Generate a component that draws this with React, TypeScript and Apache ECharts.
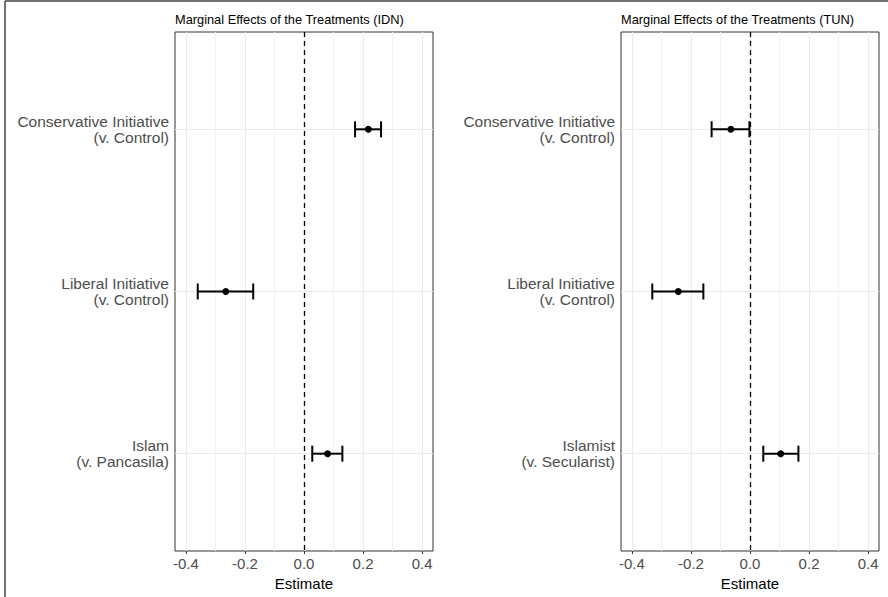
import React, { useEffect, useRef } from "react";
import * as echarts from "echarts";

const categoriesIDN = ["Conservative Initiative\n(v. Control)", "Liberal Initiative\n(v. Control)", "Islam\n(v. Pancasila)"];
const categoriesTUN = ["Conservative Initiative\n(v. Control)", "Liberal Initiative\n(v. Control)", "Islamist\n(v. Secularist)"];
const estimateIDN = [0.218, -0.265, 0.080];
const lowerIDN = [0.173, -0.360, 0.028];
const upperIDN = [0.261, -0.172, 0.130];
const estimateTUN = [-0.065, -0.243, 0.104];
const lowerTUN = [-0.130, -0.331, 0.045];
const upperTUN = [-0.002, -0.158, 0.164];
const xTicks = [-0.4, -0.2, 0, 0.2, 0.4];
const xMinor = [-0.3, -0.1, 0.1, 0.3];
const yPositions = [1, 2, 3];
const titles = ["Marginal Effects of the Treatments (IDN)", "Marginal Effects of the Treatments (TUN)"];

const FONT = "'Liberation Sans', Arial, sans-serif";

export default function App() {
  const ref = useRef<HTMLDivElement>(null);
  useEffect(() => {
    if (!ref.current) return;
    const chart = echarts.init(ref.current, null, { renderer: "svg" });
    const panels = [
      { cats: categoriesIDN, est: estimateIDN, lo: lowerIDN, hi: upperIDN, left: 175 },
      { cats: categoriesTUN, est: estimateTUN, lo: lowerTUN, hi: upperTUN, left: 621 },
    ];
    const grids: any[] = [];
    const xAxes: any[] = [];
    const yAxes: any[] = [];
    const series: any[] = [];
    const graphics: any[] = [
      { type: "line", shape: { x1: 5, y1: 1, x2: 888, y2: 1 }, style: { stroke: "#444", lineWidth: 1.5 } },
      { type: "line", shape: { x1: 5, y1: 1, x2: 5, y2: 597 }, style: { stroke: "#444", lineWidth: 1.5 } },
    ];
    panels.forEach((p, i) => {
      grids.push({ left: p.left, top: 32, width: 258, height: 519, show: true, borderColor: "#333", borderWidth: 1, backgroundColor: "transparent" });
      xAxes.push({
        type: "value", gridIndex: i, min: -0.437, max: 0.437,
        axisLine: { show: false },
        axisTick: { show: true, customValues: xTicks, length: 3, lineStyle: { color: "#333" } },
        axisLabel: { customValues: xTicks, formatter: (v: number) => v.toFixed(1), color: "#4D4D4D", fontSize: 15, fontFamily: FONT, margin: 5 },
        splitLine: { show: false },
        name: "Estimate", nameLocation: "middle", nameGap: 17,
        nameTextStyle: { color: "#000", fontSize: 15, fontFamily: FONT },
      });
      const cats = p.cats;
      yAxes.push({
        type: "value", gridIndex: i, min: 0.4, max: 3.6, inverse: true,
        axisLine: { show: false },
        axisTick: { show: true, customValues: yPositions, length: 3, lineStyle: { color: "#333" } },
        axisLabel: { customValues: yPositions, formatter: (v: number) => cats[Math.round(v) - 1], color: "#4D4D4D", fontSize: 15.5, fontFamily: FONT, lineHeight: 16, margin: 6, align: "right" },
        splitLine: { show: false },
      });
      const gridLines: any[] = [];
      xTicks.forEach((v) => gridLines.push({ xAxis: v, lineStyle: { color: "#EBEBEB", width: 1, type: "solid" } }));
      xMinor.forEach((v) => gridLines.push({ xAxis: v, lineStyle: { color: "#F2F2F2", width: 1, type: "solid" } }));
      yPositions.forEach((v) => gridLines.push({ yAxis: v, lineStyle: { color: "#EBEBEB", width: 1, type: "solid" } }));
      series.push({
        type: "scatter", xAxisIndex: i, yAxisIndex: i, data: [], z: 1, silent: true,
        markLine: { z: 1, silent: true, symbol: "none", label: { show: false }, animation: false, data: gridLines },
      });
      series.push({
        type: "scatter", xAxisIndex: i, yAxisIndex: i, data: [], z: 2, silent: true,
        markLine: { z: 2, silent: true, symbol: "none", label: { show: false }, animation: false,
          data: [{ xAxis: 0, lineStyle: { color: "#000", width: 1.3, type: [5, 4] } }] },
      });
      series.push({
        type: "custom", xAxisIndex: i, yAxisIndex: i, z: 3,
        data: p.est.map((_, k) => [p.lo[k], p.hi[k], yPositions[k]]),
        renderItem: (params: any, api: any) => {
          const a = api.coord([api.value(0), api.value(2)]);
          const b = api.coord([api.value(1), api.value(2)]);
          const h = 8;
          const st = { stroke: "#000", lineWidth: 2 };
          return {
            type: "group",
            children: [
              { type: "line", shape: { x1: a[0], y1: a[1], x2: b[0], y2: b[1] }, style: st },
              { type: "line", shape: { x1: a[0], y1: a[1] - h, x2: a[0], y2: a[1] + h }, style: st },
              { type: "line", shape: { x1: b[0], y1: b[1] - h, x2: b[0], y2: b[1] + h }, style: st },
            ],
          };
        },
      });
      series.push({
        type: "scatter", xAxisIndex: i, yAxisIndex: i, z: 4, symbol: "circle", symbolSize: 7,
        itemStyle: { color: "#000", opacity: 1 },
        data: p.est.map((v, k) => [v, yPositions[k]]),
      });
      graphics.push({ type: "text", x: p.left, y: 19, style: { text: titles[i], fill: "#000", fontSize: 12.8, fontFamily: FONT, textVerticalAlign: "middle", textAlign: "left" } });
    });
    chart.setOption({
      animation: false,
      backgroundColor: "#fff",
      grid: grids,
      xAxis: xAxes,
      yAxis: yAxes,
      series,
      graphic: graphics,
    });
    return () => chart.dispose();
  }, []);
  return <div ref={ref} style={{ position: "fixed", left: 0, top: 0, width: 888, height: 597 }} />;
}
